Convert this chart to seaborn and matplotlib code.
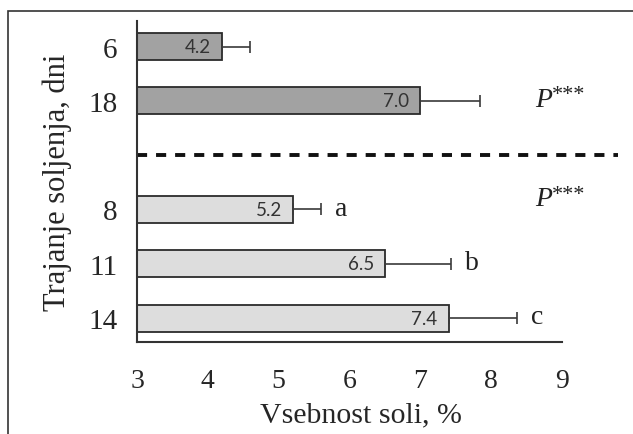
import numpy as np
import pandas as pd
import matplotlib
matplotlib.use("Agg")
import matplotlib.pyplot as plt
from matplotlib.patches import Rectangle
import seaborn as sns

days = ["6", "18", "8", "11", "14"]
group = ["I", "I", "II", "II", "II"]
salt = [4.2, 7.0, 5.2, 6.5, 7.4]
sd = [0.4, 0.84, 0.4, 0.93, 0.97]
letters = ["", "", "a", "b", "c"]
x_ticks = [3, 4, 5, 6, 7, 8, 9]

# one empty slot between the two groups (where the dashed line goes)
pos = []
p = 0
for i, g in enumerate(group):
    if i > 0 and g != group[i - 1]:
        p += 1
    pos.append(p)
    p += 1
gap = pos[group.index("II")] - 1

df = pd.DataFrame({"days": days, "group": group, "salt": salt, "sd": sd, "pos": pos})

sns.set_style("white")
plt.rcParams["font.family"] = ["Liberation Serif", "DejaVu Serif"]

fig = plt.figure(figsize=(6.33, 4.35), dpi=100)
ax = fig.add_axes([137 / 633, 92 / 435, 483 / 633, 321 / 435])

sns.barplot(data=df, x="salt", y="pos", hue="group", orient="h", native_scale=True,
            palette={"I": "#a2a2a2", "II": "#dddddd"}, width=0.5, dodge=False,
            edgecolor="#2b2b2b", linewidth=1.3, errorbar=None, legend=False, ax=ax)

ax.errorbar(df["salt"], df["pos"], xerr=[np.zeros(len(df)), df["sd"]], fmt="none",
            ecolor="#3a3a3a", elinewidth=1.2, capsize=4, capthick=1.2, zorder=3)

for v, s, yy, let in zip(salt, sd, pos, letters):
    ax.annotate(f"{v:.1f}", (v, yy), xytext=(-8, 0), textcoords="offset points",
                ha="right", va="center", fontsize=13.5, family="Lato", color="#333333")
    if let:
        ax.annotate(let, (v + s, yy), xytext=(10, 1), textcoords="offset points",
                    ha="left", va="center", fontsize=20, color="#222222")

# significance marks
for yy in [pos[1] - 0.03, pos[2] - 0.2]:
    ax.text(8.62, yy, "P", style="italic", fontsize=20, ha="left", va="center", color="#222222")
    ax.annotate("***", (8.62, yy), xytext=(12, 10), textcoords="offset points",
                ha="left", va="top", fontsize=16, color="#222222")

ax.axhline(gap, xmin=0, xmax=0.995, color="#111111", lw=2.8, dashes=(2.6, 2.3))

ax.set_xlim(3, 9.82)
ax.set_ylim(5.44, -0.47)
ax.set_xticks(x_ticks)
ax.set_xticklabels([str(t) for t in x_ticks], fontsize=20)
ax.set_yticks(pos)
ax.set_yticklabels(days, fontsize=21)
ax.tick_params(axis="x", direction="out", length=8, width=1.5, color="#333333", pad=11)
ax.tick_params(axis="y", length=0, pad=14)

for side in ["top", "right"]:
    ax.spines[side].set_visible(False)
for side in ["left", "bottom"]:
    ax.spines[side].set_color("#333333")
    ax.spines[side].set_linewidth(1.5)
ax.spines["bottom"].set_bounds(3, 9)

ax.set_xlabel("Vsebnost soli, %", fontsize=21.5)
ax.set_ylabel("Trajanje soljenja, dni", fontsize=22)
ax.xaxis.set_label_coords(0.464, -0.185)
ax.yaxis.set_label_coords(-0.135, 0.5)

fig.patches.append(Rectangle((8 / 633, -0.2), 1.2, 1.2 - 12 / 435, transform=fig.transFigure,
                             fill=False, edgecolor="#333333", lw=1.2, clip_on=False))

fig.savefig("out.png", dpi=100, facecolor="white")
